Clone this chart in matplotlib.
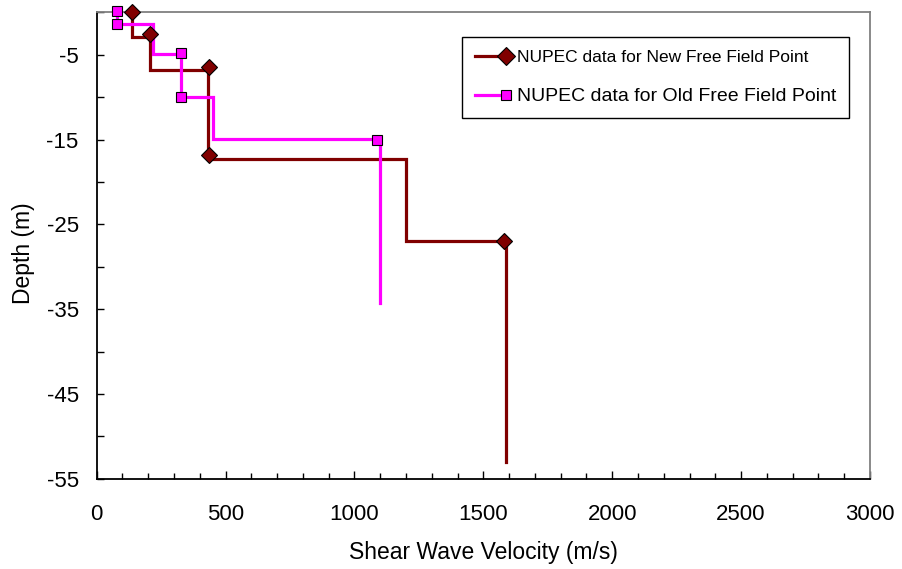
import matplotlib
matplotlib.use("Agg")
import matplotlib.pyplot as plt
from matplotlib.legend_handler import HandlerLine2D
from matplotlib.ticker import MultipleLocator, FixedLocator
import numpy as np

# ---- data ----
# New free field point: layer velocities and layer boundaries (depth, m)
new_layer_vs = [138, 207, 430, 1199, 1588]
new_layer_bounds = [0, -2.9, -6.8, -17.3, -27.0, -53.0]
new_marker_vs = [138, 207, 437, 437, 1581]
new_marker_depth = [0, -2.6, -6.5, -16.8, -27.0]

# Old free field point
old_layer_vs = [80, 220, 326, 452, 1099]
old_layer_bounds = [0, -1.42, -4.92, -9.95, -14.9, -34.3]
old_marker_vs = [80, 80, 326, 326, 1086]
old_marker_depth = [0.2, -1.42, -4.85, -9.95, -15.05]

labels = ["NUPEC data for New Free Field Point", "NUPEC data for Old Free Field Point"]
x_ticks = [0, 500, 1000, 1500, 2000, 2500, 3000]
y_ticks = [-55, -45, -35, -25, -15, -5]

plt.rcParams['font.family'] = ['Liberation Sans', 'DejaVu Sans']
plt.rcParams['axes.unicode_minus'] = False

def step_path(vs, bounds):
    xs, ys = [], []
    for i, v in enumerate(vs):
        xs += [v, v]
        ys += [bounds[i], bounds[i + 1]]
    return xs, ys

W, H = 903, 569
fig = plt.figure(figsize=(W / 100, H / 100), dpi=100)
x0, x1, y0, y1 = 96.7, 870.0, 12.3, 478.7
ax = fig.add_axes([x0 / W, 1 - y1 / H, (x1 - x0) / W, (y1 - y0) / H])

red = '#800000'
mag = '#FF00FF'

nx, ny = step_path(new_layer_vs, new_layer_bounds)
ox, oy = step_path(old_layer_vs, old_layer_bounds)

ax.plot(nx, ny, color=red, lw=2.3, solid_joinstyle='miter', zorder=3)
ax.plot(ox, oy, color=mag, lw=2.3, solid_joinstyle='miter', zorder=4)
ax.plot(new_marker_vs, new_marker_depth, ls='none', marker='D', ms=7.8,
        mfc=red, mec='black', mew=0.8, zorder=5, clip_on=False)
ax.plot(old_marker_vs, old_marker_depth, ls='none', marker='s', ms=7.5,
        mfc=mag, mec='black', mew=0.8, zorder=6, clip_on=False)

h1, = ax.plot([], [], color=red, lw=2.3, marker='D', ms=9, mfc=red, mec='black', mew=0.8)
h2, = ax.plot([], [], color=mag, lw=2.3, marker='s', ms=7.5, mfc=mag, mec='black', mew=0.8)


class EndMarkerHandler(HandlerLine2D):
    def create_artists(self, *args, **kwargs):
        arts = super().create_artists(*args, **kwargs)
        for a in arts:
            a.set_markevery([2])
        return arts


leg = ax.legend([h1, h2], labels, loc='upper left',
                bbox_to_anchor=(462 / W, 1 - 37 / H), bbox_transform=fig.transFigure,
                borderaxespad=0, fontsize=12.5, frameon=True, fancybox=False,
                edgecolor='black', framealpha=1, handlelength=1.8, handletextpad=0.6,
                labelspacing=1.3, borderpad=0.75, numpoints=1,
                handler_map={h1: EndMarkerHandler(), h2: EndMarkerHandler()})
leg.get_frame().set_linewidth(1.0)
leg.get_texts()[1].set_fontsize(14)

ax.set_xlim(0, 3000)
ax.set_ylim(-55, 0)
ax.xaxis.set_major_locator(FixedLocator(x_ticks))
ax.xaxis.set_minor_locator(MultipleLocator(100))
ax.yaxis.set_major_locator(FixedLocator(y_ticks))
ax.yaxis.set_minor_locator(MultipleLocator(5))

ax.tick_params(axis='x', which='major', direction='in', length=5.5, width=1, pad=18, labelsize=16)
ax.tick_params(axis='x', which='minor', direction='in', length=4, width=1)
ax.tick_params(axis='y', which='both', direction='in', length=5, width=1, pad=13, labelsize=16)

for s in ['left', 'bottom']:
    ax.spines[s].set_color('black')
    ax.spines[s].set_linewidth(1.3)
for s in ['top', 'right']:
    ax.spines[s].set_color('#808080')
    ax.spines[s].set_linewidth(1.3)

ax.set_xlabel('Shear Wave Velocity (m/s)', fontsize=16.5, va='center')
ax.xaxis.set_label_coords(0.5, (y1 - 553) / (y1 - y0))
ax.set_ylabel('Depth (m)', fontsize=16.5, va='center')
ax.yaxis.set_label_coords((23 - x0) / (x1 - x0), 1 - (253 - y0) / (y1 - y0))

fig.savefig('out.png', dpi=100)
